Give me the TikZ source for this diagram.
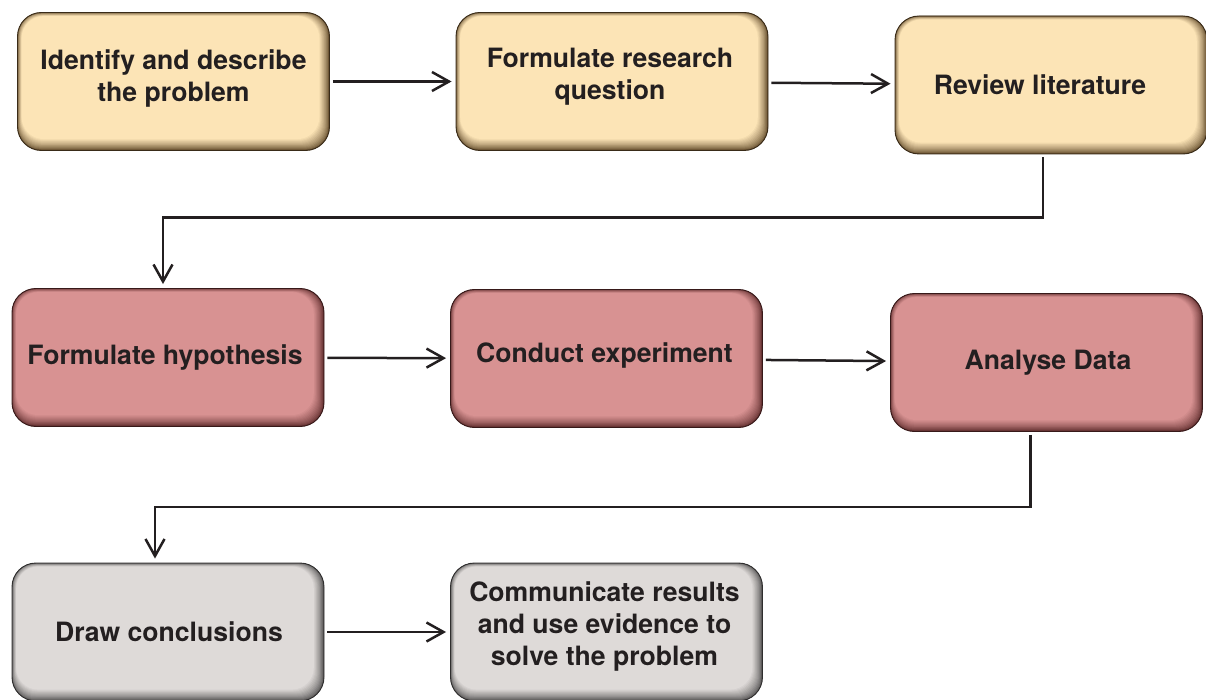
\documentclass[tikz,border=0pt]{standalone}
\usepackage{fontspec}
\setmainfont{TeX Gyre Heros}
\usetikzlibrary{arrows.meta}

\definecolor{ink}{HTML}{231F20}
\definecolor{sandfill}{RGB}{252,228,182}
\definecolor{sandedge}{RGB}{95,72,40}
\definecolor{rosefill}{RGB}{216,146,146}
\definecolor{roseedge}{RGB}{92,42,42}
\definecolor{greyfill}{RGB}{222,218,216}
\definecolor{greyedge}{RGB}{78,76,76}

\tikzset{
  stepbox/.style 2 args={
    draw=#2!60!black, line width=0.9pt, rounded corners=24pt,
    minimum width=312pt, minimum height=138pt, fill=#2, inner sep=0pt,
    path picture={
      \foreach \i in {0,...,12}{
        \pgfmathtruncatemacro\p{100*(\i/12)^0.7}
        \fill[#1!\p!#2, rounded corners=22pt]
          ([shift={(\i*0.35pt,-\i*0.3pt)}]path picture bounding box.north west)
          rectangle
          ([shift={(-\i*0.85pt,\i*0.95pt)}]path picture bounding box.south east);
      }
    }},
  steptext/.style={text=ink, align=center, inner sep=0pt,
    font=\fontsize{26.6}{32}\selectfont\bfseries},
  sandbox/.style={stepbox={sandfill}{sandedge}},
  rosebox/.style={stepbox={rosefill}{roseedge}},
  greybox/.style={stepbox={greyfill}{greyedge}},
  flow/.style={draw=ink, line width=2.5pt,
    -{Straight Barb[length=17pt,width=19pt,line width=2.5pt]},
    shorten >=4pt, shorten <=3pt}
}

\begin{document}
\begin{tikzpicture}[x=1pt,y=-1pt]
  \useasboundingbox (0,0) rectangle (1206,700);

  % first row: preparation
  \node[sandbox, label={[steptext, yshift=3.5pt]center:{Identify and describe\\the problem}}]
    (identify) at (173.5,81.5) {};
  \node[sandbox, label={[steptext, yshift=5pt, xshift=-2pt]center:{Formulate research\\question}}]
    (question) at (612,81.5) {};
  \node[sandbox, label={[steptext, yshift=0.5pt, xshift=-11pt]center:{Review literature}}]
    (review) at (1051,85) {};

  % second row: investigation
  \node[rosebox, label={[steptext, yshift=0pt, xshift=-3pt]center:{Formulate hypothesis}}]
    (hypo) at (168,357.5) {};
  \node[rosebox, label={[steptext, yshift=3pt, xshift=-2pt]center:{Conduct experiment}}]
    (conduct) at (606.5,358.5) {};
  \node[rosebox, label={[steptext, yshift=0pt, xshift=1.5pt]center:{Analyse Data}}]
    (analyse) at (1046.5,362.5) {};

  % third row: conclusion
  \node[greybox, label={[steptext, yshift=0pt, xshift=1pt]center:{Draw conclusions}}]
    (conclude) at (168,632) {};
  \node[greybox, label={[steptext, yshift=5.5pt, xshift=-2pt]center:{Communicate results\\and use evidence to\\solve the problem}}]
    (communicate) at (606.5,632) {};

  % connectors
  \draw[flow] (identify) -- (question);
  \draw[flow] (question) -- (review);
  \draw[flow] ([xshift=-8pt]review.south) -- ++(0,63) -| ([xshift=-5pt]hypo.north);
  \draw[flow] (hypo) -- (conduct);
  \draw[flow] (conduct) -- (analyse);
  \draw[flow] ([xshift=-16pt]analyse.south) -- ++(0,75) -| ([xshift=-13pt]conclude.north);
  \draw[flow] (conclude) -- (communicate);
\end{tikzpicture}
\end{document}
